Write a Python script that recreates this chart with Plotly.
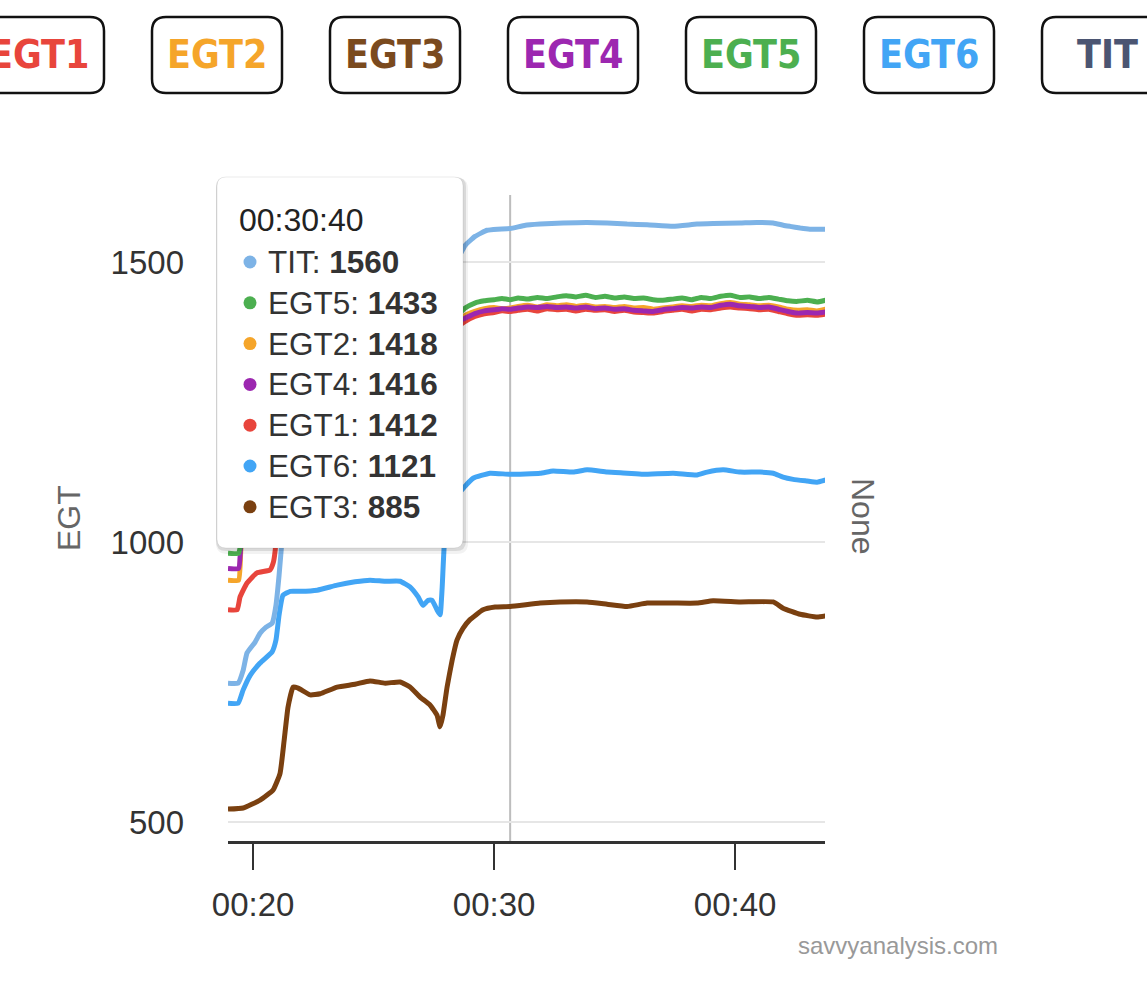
import plotly.graph_objects as go

# ---------------- data (minutes after start, temperature °F) ----------------
series_names = ["EGT1", "EGT2", "EGT3", "EGT4", "EGT5", "EGT6", "TIT"]
line_colors = {"EGT1": "#e8453c", "EGT2": "#f5a52a", "EGT3": "#7a4010", "EGT4": "#9c27b0",
               "EGT5": "#4caf50", "EGT6": "#42a5f5", "TIT": "#7db3e6"}
button_colors = {"EGT1": "#e8453c", "EGT2": "#f5a52a", "EGT3": "#7a4a1e", "EGT4": "#9c27b0",
                 "EGT5": "#4caf50", "EGT6": "#42a5f5", "TIT": "#4b5572"}

# shared time grid for the steady part of the flight
t_flat = [28.8, 29.2, 29.6, 30.0, 30.33, 30.67, 31.0, 31.4, 31.8, 32.2, 32.6, 33.0, 33.4,
          33.8, 34.2, 34.6, 35.0, 35.4, 35.8, 36.2, 36.6, 37.0, 37.4, 37.8, 38.2, 38.6,
          39.0, 39.4, 39.8, 40.2, 40.6, 41.0, 41.4, 41.8, 42.2, 42.6, 43.0, 43.4, 43.75]

egt5_t_early = [18.96, 19.40, 19.50, 19.70, 20.0, 20.5, 20.9, 21.1, 21.3, 21.7, 22.5, 23.5,
                24.5, 25.5, 26.3, 27.0, 27.6, 27.85, 28.1, 28.4]
egt5_v_early = [980, 980, 1000, 1030, 1050, 1070, 1090, 1150, 1260, 1290, 1300, 1310,
                1318, 1322, 1318, 1300, 1285, 1320, 1370, 1400]
egt5_v_flat = [1418, 1427, 1431, 1433, 1435, 1433, 1436, 1434, 1437, 1435, 1438, 1440, 1438,
               1441, 1437, 1439, 1436, 1438, 1435, 1436, 1433, 1432, 1434, 1436, 1433, 1437,
               1435, 1439, 1441, 1437, 1438, 1435, 1437, 1434, 1431, 1430, 1432, 1429, 1432]

egt2_t_early = egt5_t_early
egt2_v_early = [932, 932, 990, 1020, 1040, 1055, 1070, 1130, 1240, 1270, 1280, 1292,
                1300, 1305, 1300, 1285, 1270, 1300, 1355, 1388]
egt2_v_flat = [1405, 1412, 1417, 1419, 1417, 1418, 1421, 1423, 1420, 1424, 1422, 1424, 1421,
               1423, 1420, 1421, 1419, 1421, 1418, 1419, 1416, 1418, 1420, 1422, 1421, 1423,
               1422, 1426, 1428, 1425, 1424, 1422, 1423, 1420, 1416, 1414, 1415, 1413, 1416]

egt4_t_early = egt5_t_early
egt4_v_early = [953, 953, 1000, 1030, 1048, 1062, 1080, 1140, 1250, 1280, 1290, 1300,
                1308, 1312, 1308, 1292, 1278, 1310, 1362, 1392]
egt4_v_flat = [1400, 1408, 1413, 1415, 1417, 1416, 1418, 1420, 1419, 1421, 1419, 1420, 1418,
               1420, 1417, 1418, 1416, 1417, 1414, 1413, 1412, 1415, 1417, 1419, 1418, 1420,
               1419, 1423, 1425, 1422, 1421, 1419, 1420, 1416, 1412, 1409, 1410, 1409, 1411]

egt1_t_early = [18.96, 19.34, 19.46, 19.75, 20.16, 20.70, 20.83, 20.92, 21.0, 21.3, 21.7,
                22.5, 23.5, 24.5, 25.5, 26.3, 27.0, 27.6, 27.85, 28.1, 28.4]
egt1_v_early = [879, 879, 902, 927, 945, 950, 962, 986, 1050, 1200, 1250,
                1262, 1272, 1280, 1285, 1280, 1265, 1250, 1285, 1340, 1380]
egt1_v_flat = [1394, 1403, 1408, 1410, 1413, 1412, 1414, 1416, 1413, 1417, 1415, 1416, 1413,
               1416, 1414, 1415, 1412, 1414, 1411, 1410, 1409, 1412, 1414, 1416, 1413, 1416,
               1415, 1418, 1420, 1418, 1417, 1415, 1416, 1412, 1408, 1405, 1406, 1405, 1407]

egt3_t = [18.96, 19.59, 20.29, 20.83, 21.12, 21.29, 21.45, 21.66, 21.87, 22.37, 22.78, 23.49,
          24.23, 24.85, 25.48, 26.10, 26.51, 26.93, 27.34, 27.63, 27.76, 27.88, 28.05, 28.26,
          28.46, 28.71, 28.99, 29.54, 30.04, 30.67, 31.91, 32.74, 33.86, 34.69, 35.52, 36.35,
          37.43, 38.42, 39.09, 40.21, 41.58, 41.99, 42.70, 43.40, 43.75]
egt3_v = [523, 525, 539, 557, 587, 646, 705, 741, 739, 727, 729, 741,
          746, 752, 748, 750, 741, 723, 709, 691, 670, 691, 741, 789,
          825, 846, 861, 879, 884, 885, 891, 893, 893, 889, 885, 891,
          891, 891, 895, 893, 893, 882, 871, 866, 868]

egt6_t = [18.96, 19.38, 19.59, 19.88, 20.29, 20.79, 20.95, 21.08, 21.24, 21.54, 21.95, 22.66,
          23.49, 24.23, 24.85, 25.48, 26.10, 26.51, 26.85, 27.05, 27.26, 27.43, 27.63, 27.76,
          27.84, 27.97, 28.17, 28.51, 28.80, 29.13, 29.83, 30.67, 31.91, 32.45, 33.28, 33.86,
          34.69, 35.52, 36.18, 37.43, 38.42, 38.84, 39.50, 40.21, 41.04, 41.58, 41.99, 42.41,
          42.99, 43.40, 43.75]
egt6_v = [712, 712, 736, 762, 784, 804, 825, 870, 905, 912, 912, 914,
          923, 929, 932, 930, 930, 920, 902, 887, 896, 896, 879, 870,
          914, 1021, 1060, 1085, 1100, 1114, 1123, 1121, 1123, 1127, 1125, 1129,
          1125, 1123, 1121, 1123, 1120, 1125, 1129, 1125, 1125, 1123, 1116, 1112,
          1109, 1107, 1111]

tit_t = [18.96, 19.38, 19.59, 19.75, 20.08, 20.29, 20.54, 20.79, 20.95, 21.08, 21.20, 21.35,
         21.6, 22.2, 23.0, 24.0, 25.0, 26.0, 26.8, 27.4, 27.8, 28.0, 28.3, 28.55, 28.80, 29.21,
         29.71, 30.14, 30.67, 31.30, 31.91, 32.86, 33.86, 34.69, 35.52, 36.35, 37.43, 38.42,
         39.09, 40.21, 40.90, 41.58, 42.00, 42.28, 42.70, 43.10, 43.40, 43.75]
tit_v = [748, 748, 771, 802, 821, 837, 848, 855, 887, 941, 1004, 1100,
         1180, 1220, 1240, 1255, 1262, 1265, 1250, 1240, 1300, 1400, 1470, 1510, 1530, 1546,
         1557, 1559, 1560, 1566, 1568, 1570, 1571, 1570, 1568, 1567, 1564, 1568,
         1569, 1570, 1571, 1570, 1566, 1564, 1561, 1559, 1559, 1559]

series_t = {"EGT1": egt1_t_early + t_flat, "EGT2": egt2_t_early + t_flat, "EGT3": egt3_t,
            "EGT4": egt4_t_early + t_flat, "EGT5": egt5_t_early + t_flat, "EGT6": egt6_t,
            "TIT": tit_t}
series_v = {"EGT1": egt1_v_early + egt1_v_flat, "EGT2": egt2_v_early + egt2_v_flat,
            "EGT3": egt3_v, "EGT4": egt4_v_early + egt4_v_flat,
            "EGT5": egt5_v_early + egt5_v_flat, "EGT6": egt6_v, "TIT": tit_v}

x_tickvals = [20, 30, 40]
x_ticktext = ["00:20", "00:30", "00:40"]
y_tickvals = [500, 1000, 1500]

hover_time = 30 + 40 / 60
hover_label = "00:30:40"
hover_values = {"TIT": 1560, "EGT5": 1433, "EGT2": 1418, "EGT4": 1416,
                "EGT1": 1412, "EGT6": 1121, "EGT3": 885}

# ---------------- layout helpers (pixel -> paper) ----------------
FW, FH = 1147, 1000
L, R, T, B = 228, 825, 195, 841


def px(x):
    return (x - L) / (R - L)


def py(y):
    return (B - y) / (B - T)


def rrect(x0, y0, x1, y1, r):
    return (f"M{px(x0 + r)},{py(y0)} L{px(x1 - r)},{py(y0)} "
            f"Q{px(x1)},{py(y0)} {px(x1)},{py(y0 + r)} L{px(x1)},{py(y1 - r)} "
            f"Q{px(x1)},{py(y1)} {px(x1 - r)},{py(y1)} L{px(x0 + r)},{py(y1)} "
            f"Q{px(x0)},{py(y1)} {px(x0)},{py(y1 - r)} L{px(x0)},{py(y0 + r)} "
            f"Q{px(x0)},{py(y0)} {px(x0 + r)},{py(y0)} Z")


FONT = "Liberation Sans, Arial, Helvetica, sans-serif"

fig = go.Figure()
for name in series_names:
    fig.add_trace(go.Scatter(x=series_t[name], y=series_v[name], mode="lines", name=name,
                             line=dict(color=line_colors[name], width=5, shape="spline",
                                       smoothing=0.4),
                             hoverinfo="skip"))

shapes = []
annotations = []

# crosshair
shapes.append(dict(type="line", xref="x", yref="paper", x0=hover_time, x1=hover_time,
                   y0=0, y1=1, line=dict(color="#bdbdbd", width=2), layer="below"))

# tooltip box with soft shadow
shapes.append(dict(type="path", xref="paper", yref="paper", path=rrect(216, 178, 468, 554, 11),
                   fillcolor="rgba(0,0,0,0.05)", line=dict(width=0), layer="above"))
shapes.append(dict(type="path", xref="paper", yref="paper", path=rrect(216, 177, 466, 551, 10),
                   fillcolor="rgba(0,0,0,0.10)", line=dict(width=0), layer="above"))
shapes.append(dict(type="path", xref="paper", yref="paper", path=rrect(217, 177, 463, 548, 9),
                   fillcolor="white", line=dict(color="rgba(0,0,0,0.08)", width=1),
                   layer="above"))
annotations.append(dict(xref="paper", yref="paper", x=px(237), y=py(220), xanchor="left",
                        yanchor="middle", text=hover_label, showarrow=False,
                        font=dict(family=FONT, size=32, color="#222")))
order = sorted(hover_values, key=lambda k: -hover_values[k])
for i, name in enumerate(order):
    yrow = 262 + i * 40.8
    dot_color = line_colors[name]
    shapes.append(dict(type="circle", xref="paper", yref="paper", xsizemode="pixel",
                       ysizemode="pixel", xanchor=px(250), yanchor=py(yrow),
                       x0=-6.5, x1=6.5, y0=-6.5, y1=6.5, fillcolor=dot_color,
                       line=dict(width=0), layer="above"))
    annotations.append(dict(xref="paper", yref="paper", x=px(266), y=py(yrow), xanchor="left",
                            yanchor="middle", showarrow=False,
                            text=f"{name}: <b>{hover_values[name]}</b>",
                            font=dict(family=FONT, size=31.5, color="#333")))

# legend buttons on top
BTN_FONT = "Liberation Sans Narrow, DejaVu Sans Condensed, Open Sans, sans-serif"
for i, name in enumerate(series_names):
    cx = 39 + i * 178
    shapes.append(dict(type="path", xref="paper", yref="paper",
                       path=rrect(cx - 65, 17, cx + 65, 93, 14), fillcolor="white",
                       line=dict(color="#111", width=2.5)))
    annotations.append(dict(xref="paper", yref="paper", x=px(cx), y=py(55), xanchor="center",
                            yanchor="middle", showarrow=False, text=f"<b>{name}</b>",
                            font=dict(family=BTN_FONT, size=39, color=button_colors[name])))

# axis titles & credit
annotations.append(dict(xref="paper", yref="paper", x=px(69), y=py(518), textangle=-90,
                        showarrow=False, text="EGT", xanchor="center", yanchor="middle",
                        font=dict(family=FONT, size=32, color="#666")))
annotations.append(dict(xref="paper", yref="paper", x=px(863), y=py(516), textangle=90,
                        showarrow=False, text="None", xanchor="center", yanchor="middle",
                        font=dict(family=FONT, size=32, color="#666")))
annotations.append(dict(xref="paper", yref="paper", x=px(1000), y=py(945), xanchor="right",
                        yanchor="middle", showarrow=False, text="savvyanalysis.com",
                        font=dict(family=FONT, size=24, color="#999")))

fig.update_layout(
    width=FW, height=FH, margin=dict(l=L, r=FW - R, t=T, b=FH - B, autoexpand=False),
    paper_bgcolor="white", plot_bgcolor="white", showlegend=False,
    shapes=shapes, annotations=annotations,
    xaxis=dict(range=[18.96, 43.73], tickvals=x_tickvals, ticktext=x_ticktext,
               ticks="outside", ticklen=26, tickwidth=2, tickcolor="#333",
               showline=True, linecolor="#333", linewidth=2.5, showgrid=False,
               zeroline=False, tickfont=dict(family=FONT, size=33, color="#333"),
               ticklabelstandoff=7),
    yaxis=dict(range=[466, 1620], tickvals=y_tickvals, showgrid=True, gridcolor="#e6e6e6",
               gridwidth=2, zeroline=False, showline=False, ticks="",
               tickfont=dict(family=FONT, size=33, color="#333"), ticklabelstandoff=43),
)

fig.write_html("out.html")
